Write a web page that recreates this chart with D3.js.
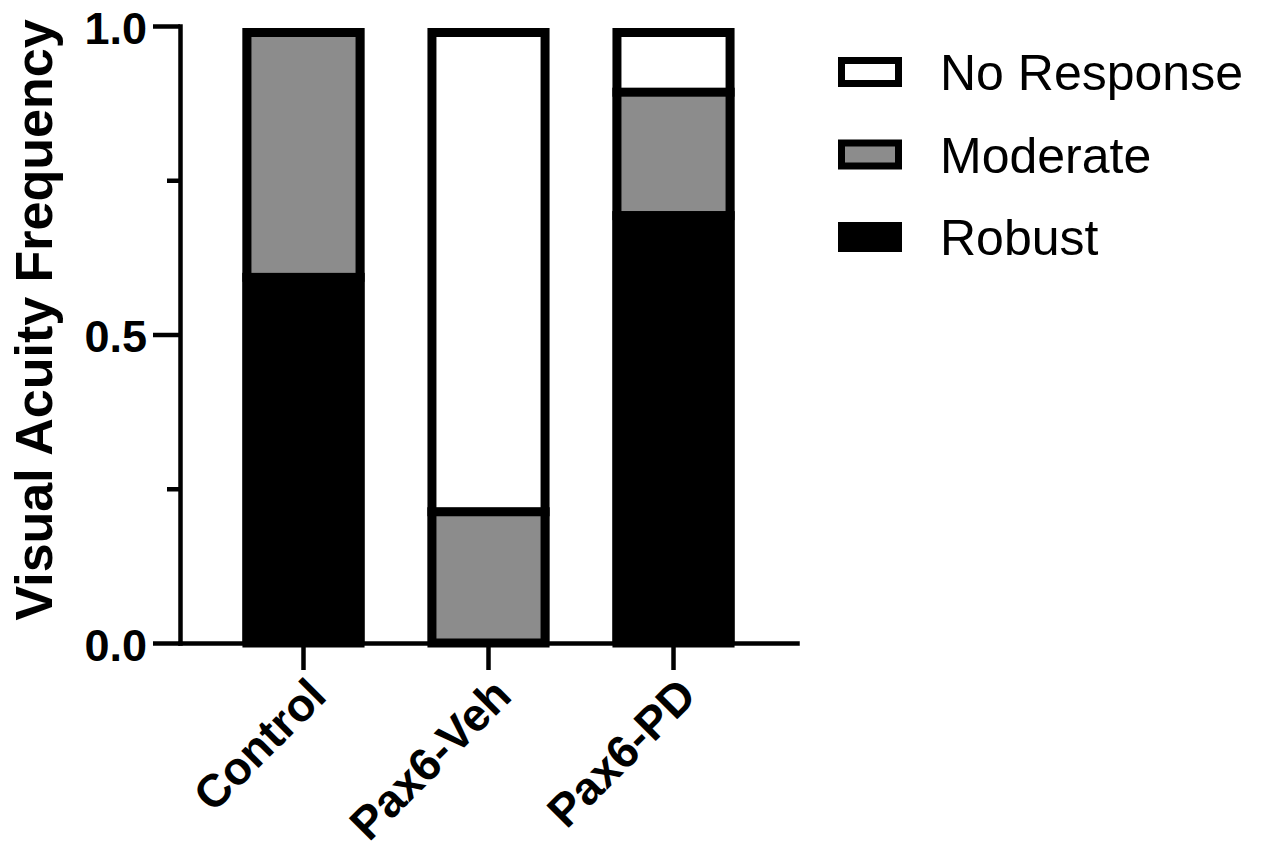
<!DOCTYPE html>
<html>
<head>
<meta charset="utf-8">
<script src="https://cdn.jsdelivr.net/npm/d3@7"></script>
<style>
  html, body { margin: 0; padding: 0; background: #fff; }
  svg { display: block; font-family: "Liberation Sans", Arial, Helvetica, sans-serif; }
</style>
</head>
<body>
<svg id="chart" width="1267" height="858"></svg>
<script>
// Groups on the x axis
const categories = ["Control", "Pax6-Veh", "Pax6-PD"];
// Response levels, stacked bottom to top
const responses = ["Robust", "Moderate", "No Response"];
// Fraction of animals per response level in each group
const robust     = [0.60, 0.00, 0.70];
const moderate   = [0.40, 0.22, 0.20];
const noResponse = [0.00, 0.78, 0.10];
// Y ticks (majors get labels)
const yTicks = [0, 0.25, 0.5, 0.75, 1.0];
const yLabelled = [0, 0.5, 1.0];
// Legend order, top to bottom
const legendOrder = ["No Response", "Moderate", "Robust"];

const fills = { "Robust": "#000000", "Moderate": "#8c8c8c", "No Response": "#ffffff" };

const rows = categories.map((c, i) => ({
  group: c,
  "Robust": robust[i],
  "Moderate": moderate[i],
  "No Response": noResponse[i]
}));

const svg = d3.select("#chart");

const x = d3.scaleBand().domain(categories).range([180, 797]).paddingInner(0.34).paddingOuter(0.3375);
const y = d3.scaleLinear().domain([0, 1]).range([643, 26]);

const series = d3.stack().keys(responses)(rows);

const border = 9;
const barTop = y(1) + 2;

// Bars
const bars = svg.append("g");
categories.forEach((c, i) => {
  const g = bars.append("g");
  const x0 = x(c), w = x.bandwidth();
  // segment fills
  series.forEach(s => {
    const d = s[i];
    if (d[1] - d[0] <= 0) return;
    const top = Math.max(y(d[1]), barTop);
    g.append("rect")
      .attr("x", x0).attr("y", top)
      .attr("width", w).attr("height", y(d[0]) - top)
      .attr("fill", fills[s.key]);
  });
  // dividers between stacked segments
  series.forEach(s => {
    const d = s[i];
    if (d[1] - d[0] <= 0 || d[0] <= 0) return;
    g.append("rect")
      .attr("x", x0).attr("y", y(d[0]))
      .attr("width", w).attr("height", border)
      .attr("fill", "#000");
  });
  // outer border
  g.append("rect")
    .attr("x", x0 + border / 2).attr("y", barTop + border / 2)
    .attr("width", w - border).attr("height", y(0) - barTop - border / 2)
    .attr("fill", "none").attr("stroke", "#000").attr("stroke-width", border);
});

// Y axis
const yAxis = svg.append("g")
  .attr("transform", "translate(180,0)")
  .call(d3.axisLeft(y).tickValues(yTicks).tickSize(27).tickSizeOuter(0).tickPadding(6)
    .tickFormat(d => yLabelled.includes(d) ? d3.format(".1f")(d) : ""));
yAxis.select(".domain").attr("stroke-width", 4.5).attr("stroke-linecap", "square");
yAxis.selectAll(".tick line").attr("stroke-width", 4.5)
  .attr("x2", d => yLabelled.includes(d) ? -27 : -13);
yAxis.selectAll(".tick text")
  .attr("font-size", 45).attr("font-weight", "bold").attr("fill", "#000")
  .attr("font-family", "Liberation Sans, Arial, sans-serif")
  .attr("dy", "0.38em");

// X axis
const xAxis = svg.append("g")
  .attr("transform", `translate(0,${y(0)})`)
  .call(d3.axisBottom(x).tickSize(27).tickSizeOuter(0).tickPadding(0));
xAxis.select(".domain").attr("stroke-width", 4.5).attr("stroke-linecap", "square");
xAxis.selectAll(".tick line").attr("stroke-width", 4.5);
xAxis.selectAll(".tick text")
  .attr("font-size", 46).attr("font-weight", "bold").attr("fill", "#000")
  .attr("font-family", "Liberation Sans, Arial, sans-serif")
  .attr("text-anchor", "end")
  .attr("dy", 0)
  .attr("transform", "translate(6,36) rotate(-45)");

// Y axis title
svg.append("text")
  .attr("transform", "translate(52,320) rotate(-90)")
  .attr("text-anchor", "middle")
  .attr("font-size", 52).attr("font-weight", "bold").attr("fill", "#000")
  .text("Visual Acuity Frequency");

// Legend
const legend = svg.append("g").attr("transform", "translate(838,0)");
const legendY = d3.scalePoint().domain(legendOrder).range([72, 237]);
legendOrder.forEach(k => {
  const cy = legendY(k);
  legend.append("rect")
    .attr("x", 3.5).attr("y", cy - 15 + 3.5)
    .attr("width", 64 - 7).attr("height", 30 - 7)
    .attr("fill", fills[k]).attr("stroke", "#000").attr("stroke-width", 7);
  legend.append("text")
    .attr("x", 102).attr("y", cy + 18)
    .attr("font-size", 50).attr("fill", "#000")
    .text(k);
});
</script>
</body>
</html>
